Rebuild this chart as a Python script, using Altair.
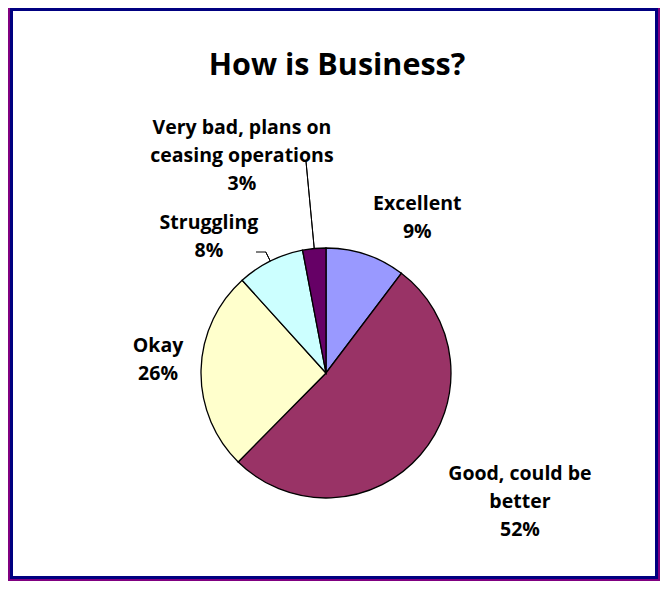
import altair as alt
import pandas as pd

# ---- data ----
categories = ["Excellent", "Good, could be better", "Okay", "Struggling",
              "Very bad, plans on ceasing operations"]
shares = [10.3, 52.1, 25.9, 8.7, 3.0]          # slice sizes (measured angles)
pct_labels = ["9%", "52%", "26%", "8%", "3%"]  # printed labels
label_lines = [["Excellent"], ["Good, could be", "better"], ["Okay"],
               ["Struggling"], ["Very bad, plans on", "ceasing operations"]]
colors = ["#9999FF", "#993366", "#FFFFCC", "#CCFFFF", "#660066"]

df = pd.DataFrame({
    "category": categories,
    "share": shares,
    "idx": list(range(len(categories))),
    "label": ["\n".join(l + [p]) for l, p in zip(label_lines, pct_labels)],
})

# ---- layout / style ----
W, H = 652, 573
CX, CY, R = 318, 365, 125
FONT = "Open Sans"
# per label: (radius, dx, dy)
label_style = {
    0: (177, 35, -1),
    1: (230, 20, -49),
    2: (168, 0, -23),
    3: (173, -40, 5),
    4: (224, -63, -22),
}

one = alt.Chart(pd.DataFrame({"k": [0]}))
frame_outer = one.mark_rect(color="#800080").encode(
    x=alt.value(0), x2=alt.value(652), y=alt.value(0), y2=alt.value(573))
frame_mid = one.mark_rect(color="#000080").encode(
    x=alt.value(2), x2=alt.value(650), y=alt.value(0), y2=alt.value(571))
frame_inner = one.mark_rect(color="white").encode(
    x=alt.value(5), x2=alt.value(647), y=alt.value(3), y2=alt.value(568))

title = one.mark_text(text="How is Business?", font=FONT, fontSize=30.5,
                      fontWeight="bold", color="black", align="center",
                      baseline="alphabetic").encode(
    x=alt.value(329), y=alt.value(67))

base = alt.Chart(df)

pie = base.mark_arc(radius=R, stroke="black", strokeWidth=1.3).encode(
    theta=alt.Theta("share:Q", stack=True),
    order=alt.Order("idx:Q"),
    color=alt.Color("category:N", scale=alt.Scale(domain=categories, range=colors),
                    legend=None),
    x=alt.value(CX), y=alt.value(CY),
)

mid_base = base.transform_window(
    cum="sum(share)", sort=[alt.SortField("idx")], frame=[None, 0]
).transform_calculate(mid="datum.cum - datum.share / 2")

text_layers = []
for i, (r, dx, dy) in label_style.items():
    text_layers.append(
        mid_base.transform_filter(alt.datum.idx == i).mark_text(
            radius=r, dx=dx, dy=dy, font=FONT, fontSize=19.5, fontWeight="bold",
            color="black", align="center", baseline="middle", lineBreak="\n",
            lineHeight=28,
        ).encode(
            theta=alt.Theta("mid:Q", stack=None),
            text="label:N",
            x=alt.value(CX), y=alt.value(CY),
        )
    )

leader_vb = mid_base.transform_filter(alt.datum.idx == 4).mark_arc(
    radius=R, radius2=212, filled=False, stroke="black", strokeWidth=1).encode(
    theta=alt.Theta("mid:Q", stack=None), theta2="mid:Q",
    x=alt.value(CX), y=alt.value(CY))
leader_st = mid_base.transform_filter(alt.datum.idx == 3).mark_arc(
    radius=R, radius2=135, filled=False, stroke="black", strokeWidth=1).encode(
    theta=alt.Theta("mid:Q", stack=None), theta2="mid:Q",
    x=alt.value(CX), y=alt.value(CY))
leader_st_h = one.mark_rule(color="black", strokeWidth=1).encode(
    x=alt.value(248), x2=alt.value(258), y=alt.value(244))

chart = alt.layer(
    frame_outer, frame_mid, frame_inner, title, pie, leader_vb, leader_st,
    leader_st_h, *text_layers
).properties(
    width=W, height=H, autosize=alt.AutoSizeParams(type="none"), padding=0,
    background="white",
).configure_view(stroke=None)

chart.save("out.html", embed_options={"renderer": "svg", "actions": False})
